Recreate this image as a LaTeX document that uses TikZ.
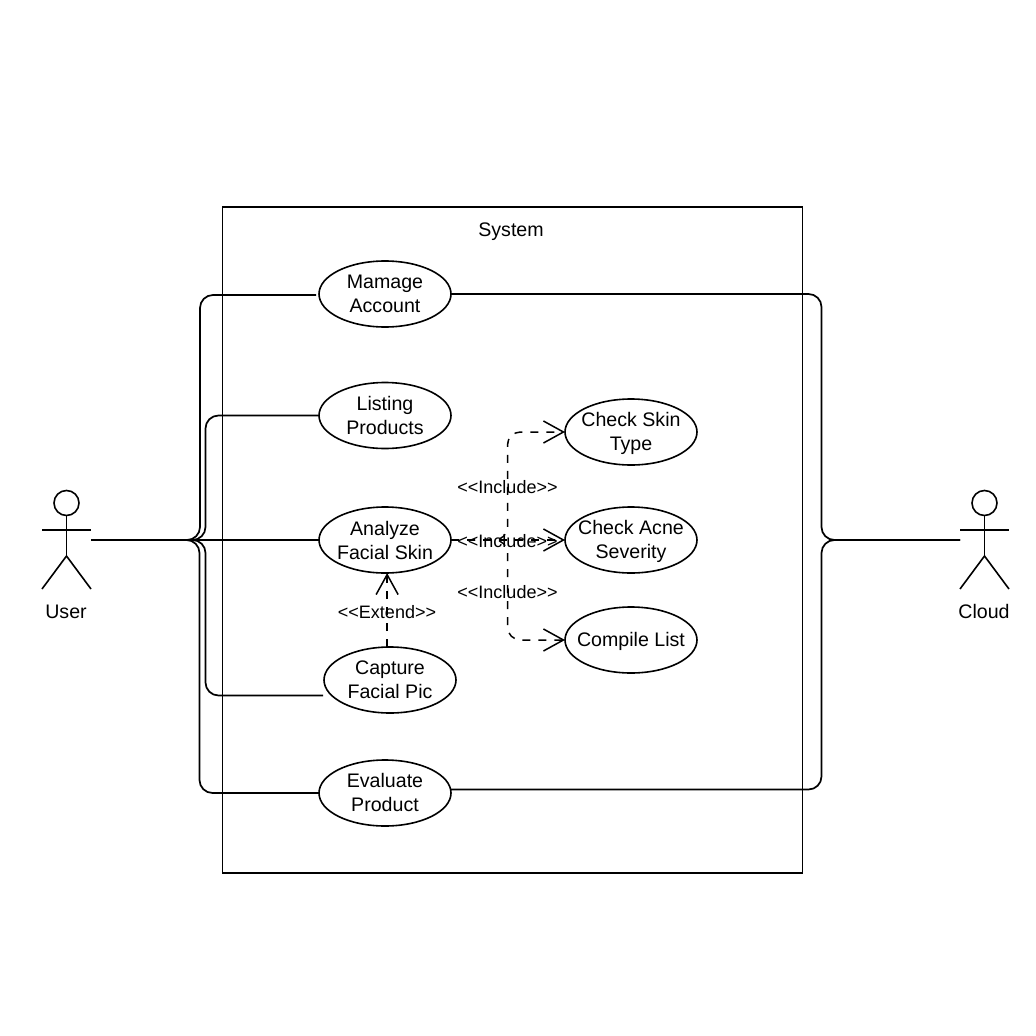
\documentclass[tikz,border=0pt]{standalone}
\usepackage{fontspec}
\setmainfont{Liberation Sans}
\usetikzlibrary{shapes.geometric,arrows.meta,calc}
\tikzset{
  x=1pt,y=-1pt,
  every node/.style={inner sep=0pt,outer sep=0pt},
  usecase/.style={draw,ellipse,inner sep=-20pt,line width=1.6pt,minimum width=132pt,minimum height=66pt,align=center,font=\fontsize{19.6}{24}\selectfont},
  sysbox/.style={draw,line width=1.7pt,minimum width=580pt,minimum height=666pt},
  actorbox/.style={minimum width=49pt,minimum height=98pt},
  actorline/.style={line width=1.6pt},
  actorname/.style={font=\fontsize{19.6}{24}\selectfont},
  assoc/.style={line width=1.7pt,rounded corners=13pt},
  depend/.style={line width=1.5pt,rounded corners=13pt,dash pattern=on 8pt off 8pt,-{Straight Barb[length=20pt,width=22pt,line width=1.5pt]}},
  deplabel/.style={font=\fontsize{18}{22}\selectfont},
}
\begin{document}
\begin{tikzpicture}
\useasboundingbox (0,0) rectangle (1036,1036);
\fill[white] (0,0) rectangle (1036,1036);
\node[sysbox] (sys) at (512.5,540) {};
\node[actorname] (systitle) at (511,231.5) {System};
\node[usecase] (manage) at (385,294) {Mamage\\Account};
\node[usecase] (listing) at (385,415.5) {Listing\\Products};
\node[usecase] (analyze) at (385,540) {Analyze\\Facial Skin};
\node[usecase] (capture) at (390,680) {Capture\\Facial Pic};
\node[usecase] (evaluate) at (385,793) {Evaluate\\Product\rule[-2pt]{0pt}{1pt}};
\node[usecase] (skin) at (631,432) {\rule{0pt}{16.5pt}Check Skin\\Type};
\node[usecase] (acne) at (631,540) {\rule{0pt}{16.5pt}Check Acne\\Severity};
\node[usecase] (compile) at (631,640) {\rule{0pt}{18pt}Compile List};
% actors
\node[actorbox] (user) at (66.5,540) {};
\node[actorbox] (cloud) at (984.5,540) {};
\foreach \a in {user,cloud}{
  \draw[actorline] ($(\a.center)+(0,-37)$) circle (12.5pt);
  \draw[actorline] ($(\a.center)+(0,-25)$) -- ($(\a.center)+(0,16)$);
  \draw[actorline] ($(\a.center)+(-24.5,-10)$) -- ($(\a.center)+(24.5,-10)$);
  \draw[actorline] ($(\a.center)+(-24.5,49)$) -- ($(\a.center)+(0,16)$) -- ($(\a.center)+(24.5,49)$);
}
\node[actorname] (username) at (66,611.5) {User};
\node[actorname] (cloudname) at (984,611) {Cloud};
% associations
\coordinate (mEnd) at ($(manage.west)+(-3,1)$);
\coordinate (cEnd) at ($(capture.west)+(-1,15.5)$);
\coordinate (mR) at ($(manage.east)$);
\coordinate (eR) at ($(evaluate.east)+(0,-3.5)$);
\draw[assoc] (user.east) -- (200,540) -- (200,295) -- (mEnd);
\draw[assoc] (user.east) -- (205.5,540) -- (205.5,415.5) -- (listing.west);
\draw[assoc] (user.east) -- (analyze.west);
\draw[assoc] (user.east) -- (205.5,540) -- (205.5,695.5) -- (cEnd);
\draw[assoc] (user.east) -- (199.5,540) -- (199.5,793) -- (evaluate.west);
\draw[assoc] (mR) -- (821.5,294) -- (821.5,540) -- (cloud.west);
\draw[assoc] (eR) -- (821.5,789.5) -- (821.5,540) -- (cloud.west);
% includes and extend
\draw[depend] (analyze.east) -- (507.5,540) -- (507.5,432) -- (skin.west);
\draw[depend] (analyze.east) -- (acne.west);
\draw[depend] (analyze.east) -- (507.5,540) -- (507.5,640) -- (compile.west);
\draw[depend,rounded corners=0pt] (capture.95) -- (capture.95 |- analyze.south);
\node[deplabel] (inc1) at (507.5,487) {<{}<Include>{}>};
\node[deplabel] (inc2) at (507.5,541) {<{}<Include>{}>};
\node[deplabel] (inc3) at (507.5,592) {<{}<Include>{}>};
\node[deplabel] (ext) at (387,612) {<{}<Extend>{}>};
\end{tikzpicture}
\end{document}
